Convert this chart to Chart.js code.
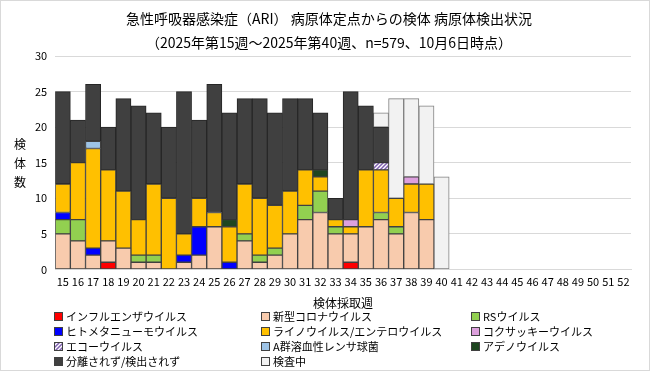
<!DOCTYPE html>
<html>
<head>
<meta charset="utf-8">
<script src="https://cdn.jsdelivr.net/npm/chart.js@4.4.0/dist/chart.umd.min.js"></script>
<style>
  html, body { margin: 0; padding: 0; background: #fff; }
  #wrap { width: 648px; height: 369px; border: 1px solid #d9d9d9; }
</style>
</head>
<body>
<div id="wrap"><canvas id="chart" width="648" height="369"></canvas></div>
<script>
// 週 15〜52
var weeks = [];
for (var w = 15; w <= 52; w++) weeks.push(String(w));

// 各ウイルスの検出数（第15週〜第40週）
var flu      = [0,0,0,1,0,0,0,0,0,0,0,0,0,0,0,0,0,0,0,1,0,0,0,0,0,0];
var corona   = [5,4,2,3,3,1,1,0,1,2,6,0,4,1,2,5,7,8,5,4,6,7,5,8,7,0];
var rs       = [2,3,0,0,0,1,1,0,0,0,0,0,1,1,1,0,2,3,1,0,0,1,1,0,0,0];
var hmpv     = [1,0,1,0,0,0,0,0,1,4,0,1,0,0,0,0,0,0,0,0,0,0,0,0,0,0];
var rhino    = [4,8,14,10,8,5,10,10,3,4,2,5,7,8,6,6,5,2,1,1,8,6,4,4,5,0];
var coxsackie= [0,0,0,0,0,0,0,0,0,0,0,0,0,0,0,0,0,0,0,1,0,0,0,1,0,0];
var echo     = [0,0,0,0,0,0,0,0,0,0,0,0,0,0,0,0,0,0,0,0,0,1,0,0,0,0];
var gas      = [0,0,1,0,0,0,0,0,0,0,0,0,0,0,0,0,0,0,0,0,0,0,0,0,0,0];
var adeno    = [0,0,0,0,0,0,0,0,0,0,0,1,0,0,0,0,0,1,0,0,0,0,0,0,0,0];
var none     = [13,6,8,6,13,16,10,10,20,11,18,15,12,14,13,13,10,8,3,18,9,5,0,0,0,0];
var pending  = [0,0,0,0,0,0,0,0,0,0,0,0,0,0,0,0,0,0,0,0,0,2,14,11,11,13];

var yTicks = [0, 5, 10, 15, 20, 25, 30];
var fontName = "'Noto Sans CJK JP', 'Noto Sans', sans-serif";

// エコーウイルス用の斜線パターン
function makeHatch() {
  var c = document.createElement('canvas');
  c.width = 4; c.height = 4;
  var g = c.getContext('2d');
  g.fillStyle = '#ffffff';
  g.fillRect(0, 0, 4, 4);
  g.strokeStyle = '#7f5fb0';
  g.lineWidth = 1.5;
  g.beginPath();
  g.moveTo(0, 4); g.lineTo(4, 0);
  g.moveTo(-1, 1); g.lineTo(1, -1);
  g.moveTo(3, 5); g.lineTo(5, 3);
  g.stroke();
  return document.getElementById('chart').getContext('2d').createPattern(c, 'repeat');
}
var hatch = makeHatch();

function ds(label, data, color, border) {
  return {
    label: label,
    data: data,
    backgroundColor: color,
    borderColor: border || '#404040',
    borderWidth: 1,
    borderSkipped: false,
    barPercentage: 1,
    categoryPercentage: 1
  };
}

var datasets = [
  ds('インフルエンザウイルス', flu, '#ff0000'),
  ds('新型コロナウイルス', corona, '#f8cbad'),
  ds('RSウイルス', rs, '#92d050'),
  ds('ヒトメタニューモウイルス', hmpv, '#0000ff'),
  ds('ライノウイルス/エンテロウイルス', rhino, '#ffc000'),
  ds('コクサッキーウイルス', coxsackie, '#dda0dd'),
  ds('エコーウイルス', echo, hatch),
  ds('A群溶血性レンサ球菌', gas, '#9dc3e6'),
  ds('アデノウイルス', adeno, '#1e4620'),
  ds('分離されず/検出されず', none, '#404040', '#262626'),
  ds('検査中', pending, '#f2f2f2', '#808080')
];

// 縦書きの軸タイトルと3列の凡例を描く
var extras = {
  id: 'extras',
  afterDraw: function (chart) {
    var ctx = chart.ctx;
    ctx.save();
    ctx.fillStyle = '#000';
    ctx.font = '12px ' + fontName;
    ctx.textAlign = 'center';
    ctx.textBaseline = 'middle';
    var ca = chart.chartArea;
    var mid = (ca.top + ca.bottom) / 2;
    ['検', '体', '数'].forEach(function (ch, i) {
      ctx.fillText(ch, 19, mid - 18 + i * 19);
    });

    var cols = [53, 260, 470];
    ctx.textAlign = 'left';
    ctx.font = '11px ' + fontName;
    chart.data.datasets.forEach(function (d, i) {
      var x = cols[i % 3];
      var y = 316 + Math.floor(i / 3) * 15;
      ctx.fillStyle = d.backgroundColor;
      ctx.fillRect(x, y - 5, 9, 9);
      ctx.strokeStyle = '#404040';
      ctx.lineWidth = 1;
      ctx.strokeRect(x + 0.5, y - 4.5, 8, 8);
      ctx.fillStyle = '#000';
      ctx.fillText(d.label, x + 12, y);
    });
    ctx.restore();
  }
};

new Chart(document.getElementById('chart'), {
  type: 'bar',
  data: { labels: weeks, datasets: datasets },
  plugins: [extras],
  options: {
    responsive: false,
    animation: false,
    layout: { padding: { left: 26, right: 18, top: 0, bottom: 59 } },
    plugins: {
      legend: { display: false },
      tooltip: { enabled: false },
      title: {
        display: true,
        text: ['急性呼吸器感染症（ARI） 病原体定点からの検体 病原体検出状況',
               '（2025年第15週～2025年第40週、n=579、10月6日時点）'],
        color: '#000',
        font: { family: fontName, size: 14, weight: 'normal', lineHeight: 1.75 },
        padding: { top: 5, bottom: 1 }
      }
    },
    scales: {
      x: {
        stacked: true,
        grid: { display: false, drawTicks: false },
        border: { color: '#d9d9d9' },
        ticks: { color: '#000', font: { family: fontName, size: 11 }, maxRotation: 0, autoSkip: false, padding: 6 },
        title: { display: true, text: '検体採取週', color: '#000', font: { family: fontName, size: 12 }, padding: { top: 2, bottom: 0 } }
      },
      y: {
        stacked: true,
        min: yTicks[0],
        max: yTicks[yTicks.length - 1],
        afterBuildTicks: function (axis) {
          axis.ticks = yTicks.map(function (v) { return { value: v }; });
        },
        grid: { color: '#d9d9d9', drawTicks: false },
        border: { display: false },
        ticks: { color: '#000', font: { family: fontName, size: 11 }, padding: 8 }
      }
    }
  }
});
</script>
</body>
</html>
